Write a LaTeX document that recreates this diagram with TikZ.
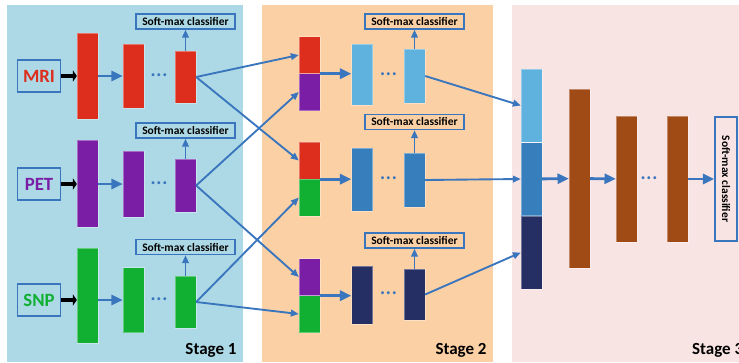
\documentclass[tikz,border=0pt]{standalone}
\usepackage{fontspec}
\setmainfont{Carlito}
\usepackage{xcolor}
\usetikzlibrary{arrows.meta,positioning,calc}
\definecolor{panelblue}{RGB}{173,217,230}
\definecolor{panelpeach}{RGB}{252,208,165}
\definecolor{panelpink}{RGB}{249,228,228}
\definecolor{linkblue}{RGB}{58,118,189}
\definecolor{barred}{RGB}{221,45,28}
\definecolor{barpurple}{RGB}{122,30,166}
\definecolor{bargreen}{RGB}{17,176,50}
\definecolor{barsky}{RGB}{94,178,221}
\definecolor{barmid}{RGB}{54,126,188}
\definecolor{barnavy}{RGB}{38,47,100}
\definecolor{barbrown}{RGB}{160,74,22}
\newcommand{\threedots}{\textbullet\hspace{1.6pt}\textbullet\hspace{1.6pt}\textbullet}

\begin{document}
\begin{tikzpicture}[
  x=0.03cm, y=-0.03cm,
  font=\bfseries,
  bar/.style={minimum width=0.63cm, inner sep=0pt, draw=white, draw opacity=0.35, line width=0.3pt},
  seg/.style={bar, minimum height=1.11cm},
  inbox/.style={draw=linkblue, line width=1.5pt, minimum width=1.29cm, minimum height=0.96cm,
                inner sep=0pt, font=\fontsize{16}{18}\selectfont\bfseries},
  smax/.style={draw=linkblue, line width=1.2pt, minimum width=2.97cm, minimum height=0.45cm,
               inner sep=0pt, font=\fontsize{9.8}{11}\selectfont\bfseries},
  ar/.style={-{Triangle[length=2.4mm,width=2mm]}, linkblue, line width=1.6pt},
  fat/.style={-{Triangle[length=3.4mm,width=3mm]}, linkblue, line width=2.4pt},
  inar/.style={-{Triangle[length=1.2mm,width=3.4mm]}, black, line width=2.8pt},
  dots/.style={text=linkblue, inner sep=0pt, font=\fontsize{7}{8}\selectfont},
  stage/.style={font=\fontsize{14.5}{16}\selectfont\bfseries}
]
\useasboundingbox (0,0) rectangle (739,362);

% Panels
\fill[panelblue] (7,5) rectangle (243,362);
\fill[panelpeach] (262,5) rectangle (493,362);
\fill[panelpink] (512,5) rectangle (739,362);

% Stage 1: inputs
\node[inbox, text=barred] (mri) at (39,76) {MRI};
\node[inbox, text=barpurple] (pet) at (39,184) {PET};
\node[inbox, text=bargreen] (snp) at (39,300) {SNP};

% Stage 1: MRI row
\node[bar, fill=barred, minimum height=2.58cm] (m1) at (87.5,76) {};
\node[bar, fill=barred, minimum height=1.92cm] (m2) at (133.5,76) {};
\node[dots] (mdots) at (159,76) {\threedots};
\node[bar, fill=barred, minimum height=1.56cm] (m3) at (185.5,77) {};
\node[smax] (msm) at (185.5,21.5) {Soft-max classifier};

% Stage 1: PET row
\node[bar, fill=barpurple, minimum height=2.61cm] (p1) at (87.5,183.5) {};
\node[bar, fill=barpurple, minimum height=1.98cm] (p2) at (133.5,184) {};
\node[dots] (pdots) at (159,184) {\threedots};
\node[bar, fill=barpurple, minimum height=1.59cm] (p3) at (185.5,185.5) {};
\node[smax] (psm) at (185.5,130.5) {Soft-max classifier};

% Stage 1: SNP row
\node[bar, fill=bargreen, minimum height=2.85cm] (s1) at (87.5,295.5) {};
\node[bar, fill=bargreen, minimum height=1.95cm] (s2) at (133.5,300) {};
\node[dots] (sdots) at (159,300) {\threedots};
\node[bar, fill=bargreen, minimum height=1.56cm] (s3) at (185.5,302) {};
\node[smax] (ssm) at (185.5,247) {Soft-max classifier};

% Stage 2: concatenated inputs
\node[seg, fill=barred] (c1a) at (309.5,55) {};
\node[seg, fill=barpurple] (c1b) at (309.5,92) {};
\node[seg, fill=barred] (c2a) at (309.5,160.5) {};
\node[seg, fill=bargreen] (c2b) at (309.5,197.5) {};
\node[seg, fill=barpurple] (c3a) at (309.5,277) {};
\node[seg, fill=bargreen] (c3b) at (309.5,314) {};

% Stage 2: fused rows
\node[bar, fill=barsky, minimum height=1.83cm] (t2) at (362,74.5) {};
\node[dots] (tdots) at (388.5,75) {\threedots};
\node[bar, fill=barsky, minimum height=1.62cm] (t3) at (414.5,76) {};
\node[smax] (tsm) at (414.5,21.5) {Soft-max classifier};

\node[bar, fill=barmid, minimum height=1.89cm] (u2) at (362,179.5) {};
\node[dots] (udots) at (388.5,179) {\threedots};
\node[bar, fill=barmid, minimum height=1.62cm] (u3) at (414.5,180) {};
\node[smax] (usm) at (414.5,122) {Soft-max classifier};

\node[bar, fill=barnavy, minimum height=1.74cm] (v2) at (362,295) {};
\node[dots] (vdots) at (388.5,294) {\threedots};
\node[bar, fill=barnavy, minimum height=1.53cm] (v3) at (414.5,294.5) {};
\node[smax] (vsm) at (414.5,240.5) {Soft-max classifier};

% Stage 3
\node[bar, fill=barsky, minimum height=2.19cm] (g1) at (531.5,105.5) {};
\node[bar, fill=barmid, minimum height=2.19cm] (g2) at (531.5,179) {};
\node[bar, fill=barnavy, minimum height=2.19cm] (g3) at (531.5,252.5) {};
\node[bar, fill=barbrown, minimum height=5.37cm] (d1) at (579.5,178.5) {};
\node[bar, fill=barbrown, minimum height=3.78cm] (d2) at (626.5,179) {};
\node[dots] (ddots) at (649,179) {\threedots};
\node[bar, fill=barbrown, minimum height=3.78cm] (d3) at (677.5,179) {};
\node[draw=linkblue, line width=1.2pt, minimum width=0.66cm, minimum height=3.72cm, inner sep=0pt,
      font=\fontsize{9.8}{11}\selectfont\bfseries] (dsm) at (726,179) {\rotatebox{-90}{Soft-max classifier}};

% Stage labels
\node[stage] (st1) at (211,350) {Stage 1};
\node[stage] (st2) at (461,350) {Stage 2};
\node[stage, anchor=west] (st3) at (688,350) {Stage 3};

% Arrows stage 1
\draw[inar] (mri) -- (m1);
\draw[inar] (pet) -- (pet -| p1.west);
\draw[inar] (snp) -- (snp -| s1.west);
\draw[fat] (m1) -- (m2);
\draw[fat] (p1.east |- p2) -- (p2);
\draw[fat] (s1.east |- s2) -- (s2);
\draw[ar] (m3) -- (msm);
\draw[ar] (p3) -- (psm);
\draw[ar] (s3) -- (ssm);

% Stage 1 to stage 2
\draw[ar] (m3.east) -- (c1a.west);
\draw[ar] (m3.east) -- (c2a.west);
\draw[ar] (p3.east) -- (c1b.west);
\draw[ar] (p3.east) -- (c3a.west);
\draw[ar] (s3.east) -- (c2b.west);
\draw[ar] (s3.east) -- (c3b.west);

% Arrows stage 2
\draw[fat] (c1a.south east) -- (c1a.south east -| t2.west);
\draw[fat] (c2a.south east) -- (c2a.south east -| u2.west);
\draw[fat] (c3a.south east) -- (c3a.south east -| v2.west);
\draw[ar] (t3) -- (tsm);
\draw[ar] (u3) -- (usm);
\draw[ar] (v3) -- (vsm);

% Stage 2 to stage 3
\draw[ar] (t3.east) -- (g1.west);
\draw[ar] (u3.east) -- (g2.west);
\draw[ar] (v3.east) -- (g3.west);

% Arrows stage 3
\draw[fat] (g2) -- (d1);
\draw[fat] (d1) -- (d2);
\draw[fat] (d3) -- (dsm);
\end{tikzpicture}
\end{document}
